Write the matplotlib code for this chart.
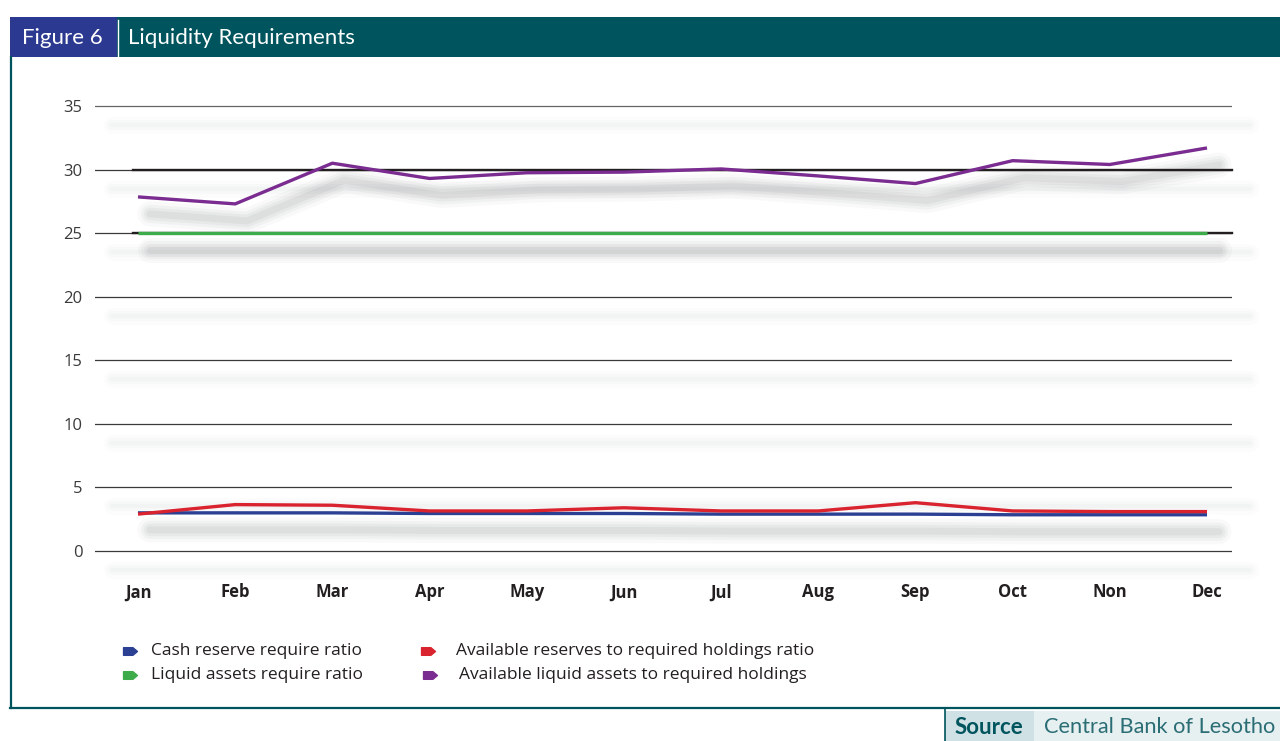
import matplotlib
matplotlib.use("Agg")
import matplotlib.pyplot as plt
from matplotlib.patches import Rectangle
from matplotlib.lines import Line2D
from matplotlib.path import Path
import matplotlib.transforms as mtransforms

# ---------------- data ----------------
months = ["Jan", "Feb", "Mar", "Apr", "May", "Jun", "Jul", "Aug", "Sep", "Oct", "Non", "Dec"]
cash_reserve_ratio = [3.0, 3.0, 3.0, 2.95, 2.95, 2.95, 2.9, 2.9, 2.9, 2.85, 2.85, 2.85]
liquid_assets_ratio = [25, 25, 25, 25, 25, 25, 25, 25, 25, 25, 25, 25]
available_reserves_ratio = [2.9, 3.65, 3.6, 3.15, 3.15, 3.4, 3.15, 3.15, 3.8, 3.15, 3.1, 3.1]
available_liquid_assets = [27.85, 27.3, 30.5, 29.3, 29.75, 29.8, 30.05, 29.5, 28.9, 30.7, 30.4, 31.7]
y_ticks = [0, 5, 10, 15, 20, 25, 30, 35]

series_labels = ["Cash reserve require ratio", "Liquid assets require ratio",
                 "Available reserves to required holdings ratio",
                 "Available liquid assets to required holdings"]
series_colors = ["#2b3f93", "#3dab4a", "#d9232e", "#7a2c90"]

TEAL = "#00545e"
BLUE_BOX = "#2b3990"

W, H = 1280, 741
fig = plt.figure(figsize=(W / 100, H / 100), dpi=100)
fig.patch.set_facecolor("white")


def fx(px):
    return px / W


def fy(py):
    return 1 - py / H


# ---------------- axes ----------------
ppu = (551 - 106) / 35.0
y_lo, y_hi = -2, 36
ax_top = 106 - (y_hi - 35) * ppu
ax_bot = 551 + (0 - y_lo) * ppu
ax = fig.add_axes([fx(95), fy(ax_bot), fx(1232) - fx(95), (ax_bot - ax_top) / H])
xu = (1207 - 138) / 11.0
ax.set_xlim((95 - 138) / xu, (1232 - 138) / xu)
ax.set_ylim(y_lo, y_hi)
for s in ax.spines.values():
    s.set_visible(False)
ax.patch.set_alpha(0)

x = list(range(len(months)))

# faint shadow bands under gridlines
band_tr = mtransforms.offset_copy(ax.transData, fig=fig, x=0, y=-19, units="dots")
for yv in y_ticks:
    for lw, a in [(12, 0.025), (7, 0.035), (3, 0.04)]:
        ax.plot([(112 - 138) / xu, (1250 - 138) / xu], [yv, yv], color="#8a8c90",
                lw=lw, alpha=a, transform=band_tr, clip_on=False, solid_capstyle="round",
                zorder=0.5)

# gridlines
for yv in y_ticks:
    ax.axhline(yv, color="#666666" if yv == 35 else "#3a3a3a", lw=0.9, zorder=1)
for yv in (25, 30):
    ax.plot([-0.05, (1232 - 138) / xu], [yv, yv], color="#231f20", lw=1.7, zorder=1.2,
            clip_on=False)

# shadows of the series
shadow_tr = mtransforms.offset_copy(ax.transData, fig=fig, x=12, y=-17, units="dots")
all_series = [cash_reserve_ratio, liquid_assets_ratio, available_reserves_ratio,
              available_liquid_assets]
for vals in [liquid_assets_ratio, available_liquid_assets, cash_reserve_ratio]:
    for lw, a in [(18, 0.035), (13, 0.05), (9, 0.06), (5, 0.07)]:
        ax.plot(x, vals, color="#5c5e62", lw=lw, alpha=a, transform=shadow_tr,
                clip_on=False, solid_capstyle="round", solid_joinstyle="round", zorder=0.8)

# series
draw_order = [1, 0, 2, 3]
for i in draw_order:
    ax.plot(x, all_series[i], color=series_colors[i], lw=2.4, zorder=3 + i,
            solid_capstyle="butt", clip_on=False)

ax.set_yticks(y_ticks)
ax.set_yticklabels([str(v) for v in y_ticks], fontsize=12, color="#3a3a3a",
                   fontfamily="Open Sans")
ax.set_xticks(x)
ax.set_xticklabels(months, fontsize=12, fontweight="bold", color="#231f20",
                   fontfamily="Open Sans")
ax.tick_params(axis="both", length=0)
ax.tick_params(axis="y", pad=9)
ax.tick_params(axis="x", pad=5)

# ---------------- header ----------------
fig.add_artist(Rectangle((fx(10), fy(57)), fx(1280) - fx(10), 40 / H,
                         transform=fig.transFigure, color=TEAL, lw=0))
fig.add_artist(Rectangle((fx(10), fy(57)), fx(117) - fx(10), 40 / H,
                         transform=fig.transFigure, color=BLUE_BOX, lw=0))
fig.add_artist(Line2D([fx(118), fx(118)], [fy(20), fy(57)], transform=fig.transFigure,
                      color="white", lw=1.0))
fig.text(fx(22), fy(38), "Figure 6", color="white", fontsize=16, va="center",
         ha="left", fontfamily="Lato")
fig.text(fx(128), fy(38), "Liquidity Requirements", color="white", fontsize=16,
         va="center", ha="left", fontfamily="Lato")

# frame
fig.add_artist(Line2D([fx(11), fx(11)], [fy(57), fy(708)], transform=fig.transFigure,
                      color=TEAL, lw=1.6))
fig.add_artist(Line2D([fx(10), fx(1280)], [fy(708), fy(708)], transform=fig.transFigure,
                      color=TEAL, lw=1.6))

# ---------------- legend ----------------
tag = Path([(-1, -0.55), (0.35, -0.55), (1, 0), (0.35, 0.55), (-1, 0.55), (-1, -0.55)],
           [Path.MOVETO, Path.LINETO, Path.LINETO, Path.LINETO, Path.LINETO, Path.CLOSEPOLY])
leg_pos = [(130, 651, 151), (130, 675, 151), (428, 651, 456), (430, 675, 459)]
for (mx, my, tx), lab, col in zip(leg_pos, series_labels, series_colors):
    fig.add_artist(Line2D([fx(mx)], [fy(my)], marker=tag, ms=10, color=col, lw=0,
                          transform=fig.transFigure))
    fig.text(fx(tx), fy(my), lab, fontsize=12.5, color="#231f20", va="center", ha="left",
             fontfamily="Open Sans")

# ---------------- source ----------------
fig.add_artist(Rectangle((fx(945), 0), fx(1034) - fx(945), (741 - 711) / H,
                         transform=fig.transFigure, color="#cfe1e4", lw=0))
fig.add_artist(Rectangle((fx(1034), 0), fx(1280) - fx(1034), (741 - 711) / H,
                         transform=fig.transFigure, color="#e7f0f1", lw=0))
fig.add_artist(Line2D([fx(945), fx(945)], [0, fy(709)], transform=fig.transFigure,
                      color=TEAL, lw=1.2))
fig.text(fx(955), fy(727), "Source", fontsize=16, color=TEAL, fontweight="bold",
         va="center", ha="left", fontfamily="Lato")
fig.text(fx(1044), fy(727), "Central Bank of Lesotho", fontsize=15.7, color="#2a6d75",
         va="center", ha="left", fontfamily="Lato")

fig.savefig("out.png", dpi=100)
